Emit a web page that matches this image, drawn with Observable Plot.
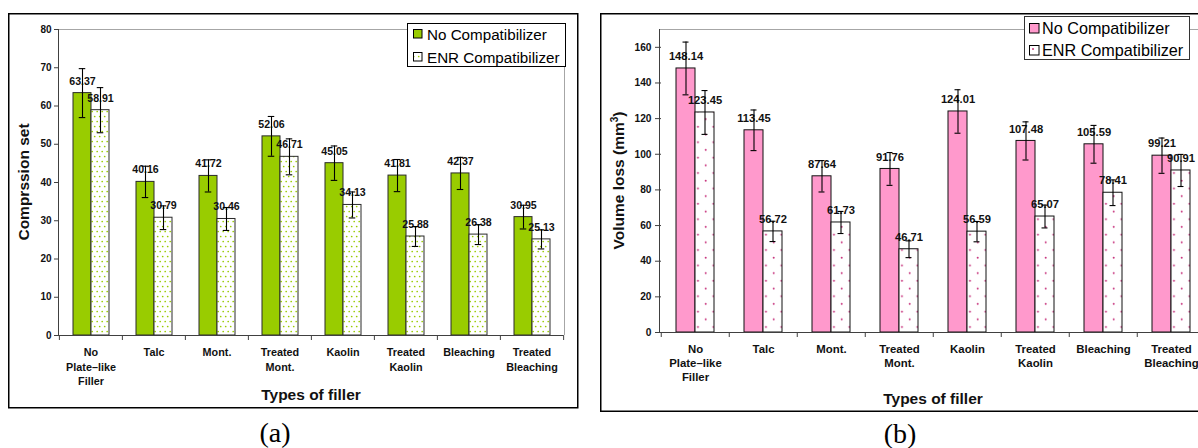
<!DOCTYPE html>
<html>
<head>
<meta charset="utf-8">
<script src="https://cdn.jsdelivr.net/npm/d3@7"></script>
<script src="https://cdn.jsdelivr.net/npm/@observablehq/plot@0.6"></script>
<style>
html, body { margin: 0; padding: 0; background: #fff; overflow: hidden; }
#root { position: relative; width: 1198px; height: 448px; overflow: hidden; font-family: "Liberation Sans", Arial, sans-serif; }
#root > svg { position: absolute; top: 0; max-width: none; }
</style>
</head>
<body>
<div id="root"></div>
<script>
// ---------- data ----------
const categories = ["No Plate–like Filler", "Talc", "Mont.", "Treated Mont.", "Kaolin", "Treated Kaolin", "Bleaching", "Treated Bleaching"];
const categoryLabels = ["No\nPlate–like\nFiller", "Talc", "Mont.", "Treated\nMont.", "Kaolin", "Treated\nKaolin", "Bleaching", "Treated\nBleaching"];
const seriesNames = ["No Compatibilizer", "ENR Compatibilizer"];

const compressionNo = [63.37, 40.16, 41.72, 52.06, 45.05, 41.81, 42.37, 30.95];
const compressionENR = [58.91, 30.79, 30.46, 46.71, 34.13, 25.88, 26.38, 25.13];
const compressionNoErr = [6.4, 4.1, 4.2, 5.2, 4.5, 4.2, 4.2, 3.1];
const compressionENRErr = [5.9, 3.1, 3.0, 4.7, 3.4, 2.6, 2.6, 2.5];
const compressionTicks = [0, 10, 20, 30, 40, 50, 60, 70, 80];

const volumeNo = [148.14, 113.45, 87.64, 91.76, 124.01, 107.48, 105.59, 99.21];
const volumeENR = [123.45, 56.72, 61.73, 46.71, 56.59, 65.07, 78.41, 90.91];
const volumeNoErr = [14.8, 11.4, 8.8, 9.2, 12.2, 10.7, 10.6, 9.9];
const volumeENRErr = [12.3, 5.7, 6.2, 4.7, 5.7, 6.4, 7.2, 9.0];
const volumeTicks = [0, 20, 40, 60, 80, 100, 120, 140, 160];

// ---------- layout / style ----------
const FONT = '"Liberation Sans", Arial, sans-serif';
const labelOf = new Map(categories.map((c, i) => [c, categoryLabels[i]]));
const OUTER_PAD = 0.71;

const panelA = {
  left: 0, width: 590, height: 448, ml: 58, mr: 26, mt: 29, mb: 113,
  no: compressionNo, enr: compressionENR, noErr: compressionNoErr, enrErr: compressionENRErr,
  yMax: 80, ticks: compressionTicks, solid: "#99cc00", pattern: "dotsGreen", barStroke: "#2a2a2a",
  tickSize: 5, tickPadding: 3, tickFont: 10, catFont: 10.8, catPad: 11, catLine: 1.3, valFont: 10.6
};
const panelB = {
  left: 600, width: 620, height: 448, ml: 59, mr: 13, mt: 29, mb: 116,
  no: volumeNo, enr: volumeENR, noErr: volumeNoErr, enrErr: volumeENRErr,
  yMax: 170, ticks: volumeTicks, solid: "#ff99cc", pattern: "dotsPink", barStroke: "#111",
  tickSize: 6, tickPadding: 4, tickFont: 10.2, catFont: 11.4, catPad: 11, catLine: 1.23, valFont: 11.2
};

function makePanel(cfg) {
  const rows = categories.flatMap((c, i) => [
    {cat: c, series: seriesNames[0], v: cfg.no[i], e: cfg.noErr[i]},
    {cat: c, series: seriesNames[1], v: cfg.enr[i], e: cfg.enrErr[i]}
  ]);
  const innerW = cfg.width - cfg.ml - cfg.mr;
  const step = innerW / categories.length;
  const barW = step / (2 + 2 * OUTER_PAD);
  const capInset = (barW - 7) / 2;
  const common = {fx: "cat", x: "series"};
  const chart = Plot.plot({
    width: cfg.width, height: cfg.height,
    marginLeft: cfg.ml, marginRight: cfg.mr, marginTop: cfg.mt, marginBottom: cfg.mb,
    style: {background: "transparent", fontFamily: FONT, overflow: "visible", color: "#111"},
    fx: {domain: categories, padding: 0, label: null},
    x: {domain: seriesNames, paddingInner: 0, paddingOuter: OUTER_PAD, axis: null},
    y: {domain: [0, cfg.yMax], label: null},
    marks: [
      Plot.barY(rows.filter(d => d.series === seriesNames[0]), {...common, y: "v", fill: cfg.solid, stroke: cfg.barStroke, strokeWidth: 1}),
      Plot.barY(rows.filter(d => d.series === seriesNames[1]), {...common, y: "v", fill: `url(#${cfg.pattern})`, stroke: cfg.barStroke, strokeWidth: 1}),
      Plot.ruleY([0], {stroke: "#404040", strokeWidth: 1}),
      Plot.text(rows, {...common, y: "v", text: d => d.v.toFixed(2), dy: -12, fontWeight: "bold", fontSize: cfg.valFont, fill: "#111"}),
      Plot.ruleX(rows, {...common, y1: d => d.v - d.e, y2: d => d.v + d.e, stroke: "#000", strokeWidth: 1.1}),
      Plot.tickY(rows, {...common, y: d => d.v + d.e, insetLeft: capInset, insetRight: capInset, stroke: "#000", strokeWidth: 1.1}),
      Plot.tickY(rows, {...common, y: d => d.v - d.e, insetLeft: capInset, insetRight: capInset, stroke: "#000", strokeWidth: 1.1}),
      Plot.axisY({ticks: cfg.ticks, tickFormat: d => String(d), tickSize: cfg.tickSize, tickPadding: cfg.tickPadding,
        fontWeight: "bold", fontSize: cfg.tickFont, label: null, stroke: "#404040"}),
      Plot.axisFx({anchor: "bottom", tickSize: 0, tickPadding: cfg.catPad, tickFormat: d => labelOf.get(d),
        fontWeight: "bold", fontSize: cfg.catFont, lineHeight: cfg.catLine, label: null}),
      Plot.axisFx({anchor: "bottom", tickSize: 5, tickFormat: () => "", dx: -step / 2, label: null, stroke: "#404040"}),
      Plot.axisFx({anchor: "bottom", ticks: [categories[categories.length - 1]], tickSize: 5, tickFormat: () => "", dx: step / 2, label: null, stroke: "#404040"})
    ]
  });
  chart.style.left = cfg.left + "px";
  chart.style.background = "transparent";
  chart.style.maxWidth = "none";
  return chart;
}

const root = document.getElementById("root");
root.appendChild(makePanel(panelA));
root.appendChild(makePanel(panelB));

// ---------- overlay: frames, titles, legends, panel tags ----------
function area(p) {
  return {x0: p.left + p.ml, x1: p.left + p.width - p.mr, y0: p.mt, y1: p.height - p.mb};
}
const aA = area(panelA), aB = area(panelB);
const ns = "http://www.w3.org/2000/svg";
const ov = document.createElementNS(ns, "svg");
ov.setAttribute("width", 1198);
ov.setAttribute("height", 448);
ov.style.left = "0px";
ov.innerHTML = `
<defs>
  <pattern id="dotsGreen" patternUnits="userSpaceOnUse" width="5" height="10">
    <rect width="5" height="10" fill="#fff"/>
    <circle cx="1.2" cy="1.5" r="0.85" fill="#99cc00"/>
    <circle cx="3.7" cy="6.5" r="0.85" fill="#99cc00"/>
  </pattern>
  <pattern id="dotsPink" patternUnits="userSpaceOnUse" width="15.4" height="15.4">
    <rect width="15.4" height="15.4" fill="#fff"/>
    <circle cx="3.6" cy="3.6" r="1" fill="#c8347e"/>
    <circle cx="11.3" cy="11.3" r="1" fill="#c8347e"/>
  </pattern>
</defs>
<g fill="none">
  <rect x="8.75" y="13.75" width="569" height="394" stroke="#000" stroke-width="1.5"/>
  <rect x="600.75" y="13.75" width="700" height="397.5" stroke="#000" stroke-width="1.5"/>
  <path d="M${aA.x0 + 0.5},${aA.y0 + 0.5}H${aA.x1 + 0.5}V${aA.y1}" stroke="#a6a6a6"/>
  <path d="M${aA.x0 + 0.5},${aA.y0}V${aA.y1}" stroke="#404040"/>
  <path d="M${aB.x0 + 0.5},${aB.y0 + 0.5}H${aB.x1 + 0.5}V${aB.y1}" stroke="#a6a6a6"/>
  <path d="M${aB.x0 + 0.5},${aB.y0}V${aB.y1}" stroke="#404040"/>
</g>
<g font-family='${FONT}' font-weight="bold" font-size="15.5" fill="#111" text-anchor="middle">
  <text transform="translate(28.5,${(aA.y0 + aA.y1) / 2}) rotate(-90)">Comprssion set</text>
  <text transform="translate(623.5,${(aB.y0 + aB.y1) / 2}) rotate(-90)">Volume loss (mm<tspan dy="-6" font-size="10">3</tspan><tspan dy="6">)</tspan></text>
  <text x="${(aA.x0 + aA.x1) / 2}" y="400">Types of filler</text>
  <text x="${(aB.x0 + aB.x1) / 2}" y="403.5">Types of filler</text>
</g>
<g font-family='"Liberation Serif", "Times New Roman", serif' font-size="28" fill="#000" text-anchor="middle">
  <text x="275" y="441.5">(a)</text>
  <text x="900" y="442.5">(b)</text>
</g>
<g font-family='${FONT}' fill="#000">
  <rect x="407.5" y="23.5" width="158" height="43" fill="#fff" stroke="#000"/>
  <rect x="413.5" y="29.5" width="8.5" height="8.5" fill="#99cc00" stroke="#000"/>
  <rect x="413.5" y="52.5" width="8.5" height="8.5" fill="url(#dotsGreen)" stroke="#000"/>
  <text x="427" y="39.6" font-size="15.2">${seriesNames[0]}</text>
  <text x="427" y="62.6" font-size="15.2">${seriesNames[1]}</text>

  <rect x="1024.5" y="16.5" width="165" height="43" fill="#fff" stroke="#333"/>
  <rect x="1029.5" y="23.5" width="9.5" height="9.5" fill="#ff99cc" stroke="#000"/>
  <rect x="1029.5" y="45.5" width="9.5" height="9.5" fill="#fff" stroke="#000"/>
  <circle cx="1033" cy="49" r="1" fill="#c8347e"/>
  <text x="1042" y="33.8" font-size="16.2">${seriesNames[0]}</text>
  <text x="1042" y="55.8" font-size="16.2">${seriesNames[1]}</text>
</g>`;
root.appendChild(ov);
</script>
</body>
</html>
